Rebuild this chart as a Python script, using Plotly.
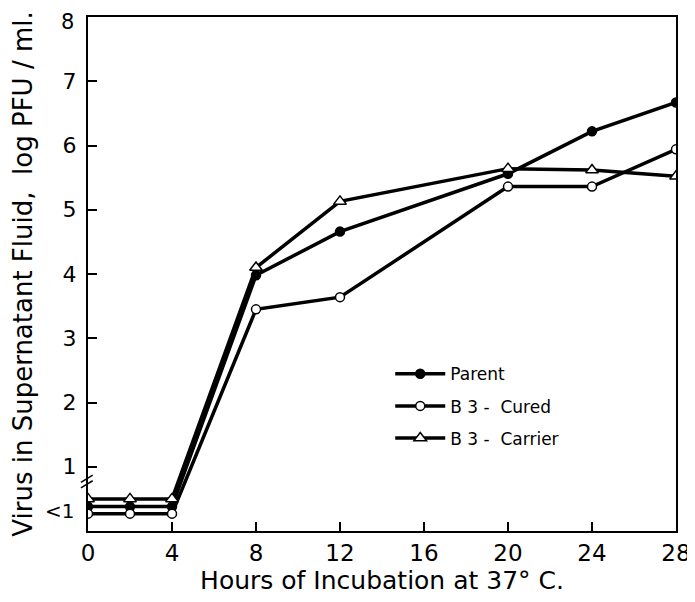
import plotly.graph_objects as go

hours = [0, 2, 4, 8, 12, 20, 24, 28]
parent = [0.38, 0.38, 0.38, 3.98, 4.66, 5.56, 6.22, 6.67]
cured = [0.27, 0.27, 0.27, 3.45, 3.64, 5.36, 5.36, 5.94]
carrier = [0.5, 0.5, 0.5, 4.1, 5.13, 5.64, 5.62, 5.52]

x_ticks = [0, 4, 8, 12, 16, 20, 24, 28]
y_ticks = [1, 2, 3, 4, 5, 6, 7, 8]
below_label_value = 0.31
break_value = 0.75
y_max = 8

FONT = "DejaVu Sans"
fig = go.Figure()

series = [
    ("Parent", parent, "circle", "black"),
    ("B 3 -  Cured", cured, "circle", "white"),
    ("B 3 -  Carrier", carrier, "triangle-up", "white"),
]
for i, (name, ys, sym, fill) in enumerate(series):
    fig.add_trace(go.Scatter(
        x=hours, y=ys, name=name, mode="lines+markers",
        line=dict(color="black", width=3.5),
        marker=dict(symbol=sym, size=9 if sym == "circle" else 11, color=fill,
                    line=dict(color="black", width=1.5)),
        legendgroup=f"g{i}",
    ))

# page body has an 8px default margin, so the figure is sized to fit the window
fig.update_layout(
    width=687, height=594,
    paper_bgcolor="white", plot_bgcolor="white",
    margin=dict(l=80, r=19, t=9, b=71),
    font=dict(family=FONT, color="black"),
    showlegend=True,
    legend=dict(x=0.514, y=0.34, xanchor="left", yanchor="top",
                bgcolor="rgba(0,0,0,0)", font=dict(size=17, family=FONT),
                tracegroupgap=7, itemwidth=50),
)
fig.update_xaxes(
    range=[0, 28], tickvals=x_ticks, ticks="inside", ticklen=9, tickwidth=1.5,
    tickcolor="black", showline=True, linecolor="black", linewidth=2,
    mirror=True, showgrid=False, zeroline=False, automargin=False,
    ticklabeloverflow="allow",
    tickfont=dict(size=23, family=FONT),
    title=dict(text="Hours of Incubation at 37° C.", font=dict(size=25, family=FONT), standoff=2),
)
# top label (8) is placed as an annotation so it stays inside the page
fig.update_yaxes(
    range=[0, y_max], tickvals=y_ticks[:-1], ticktext=[str(v) for v in y_ticks[:-1]],
    ticks="inside", ticklen=9, tickwidth=1.5, tickcolor="black",
    showline=True, linecolor="black", linewidth=2, mirror=True,
    showgrid=False, zeroline=False, automargin=False,
    ticklabeloverflow="allow", ticklabelstandoff=5,
    tickfont=dict(size=22, family=FONT),
    title=dict(text="Virus in Supernatant Fluid,  log PFU / ml.", font=dict(size=26, family=FONT), standoff=22),
)
fig.add_annotation(x=0, xref="paper", xanchor="right", xshift=-12,
                   y=y_ticks[-1] / y_max, yref="paper", yanchor="top", yshift=9,
                   text=str(y_ticks[-1]), showarrow=False,
                   font=dict(size=21, family=FONT))
fig.add_annotation(x=0, xref="paper", xanchor="right", xshift=-12,
                   y=below_label_value, yref="y", text="<1", showarrow=False,
                   font=dict(size=20, family=FONT))
# axis break marks
bp = break_value / y_max
for dy in (0.0, 0.011):
    fig.add_shape(type="line", xref="paper", yref="paper",
                  x0=-0.012, x1=0.008, y0=bp - 0.01 + dy, y1=bp + 0.004 + dy,
                  line=dict(color="black", width=1.5))
fig.write_html("out.html")
